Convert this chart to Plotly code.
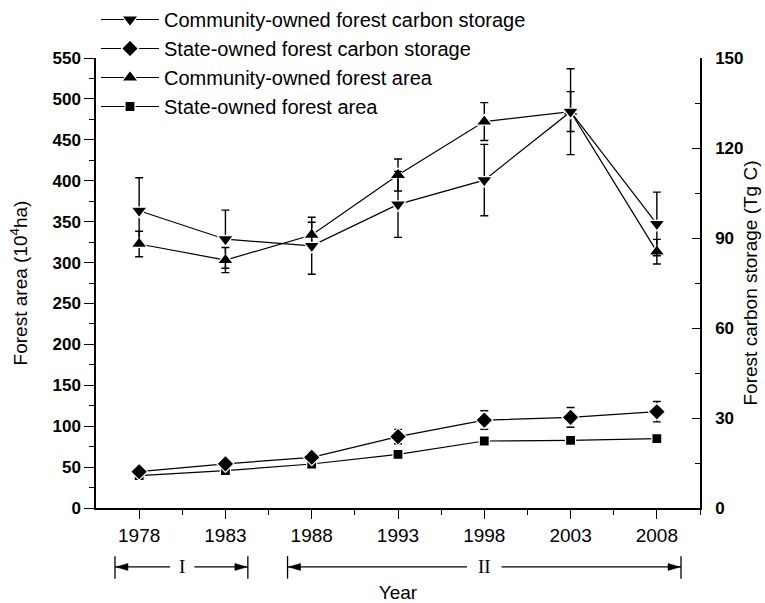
import plotly.graph_objects as go

# Survey years
years = [1978, 1983, 1988, 1993, 1998, 2003, 2008]

# Forest carbon storage (Tg C), right axis
community_carbon = [99.1, 89.6, 87.4, 101.2, 109.3, 132.1, 94.7]
community_carbon_err = [11.0, 9.7, 9.5, 11.0, 11.9, 14.3, 10.6]
state_carbon = [12.1, 14.7, 16.9, 23.8, 29.3, 30.2, 32.1]
state_carbon_err = [1.3, 1.3, 1.6, 2.4, 3.1, 3.3, 3.4]

# Forest area (10^4 ha), left axis
community_area = [322.7, 303.0, 333.7, 407.0, 472.3, 484.5, 313.3]
community_area_err = [15.6, 15.3, 15.5, 19.6, 23.2, 24.4, 15.0]
state_area = [39.5, 45.6, 53.8, 65.6, 81.9, 82.7, 84.7]

# Period brackets below the axis: (label, start, end, label position)
periods = [("I", 1976.6, 1984.3, 1980.5), ("II", 1986.6, 2009.4, 1998.0)]

FONT = "Liberation Sans, Arial, sans-serif"
BLACK = "black"


def series(name, y, err, symbol, size, axis):
    kw = dict(
        x=years, y=y, name=name, mode="lines+markers", yaxis=axis,
        line=dict(color=BLACK, width=1.2),
        marker=dict(symbol=symbol, size=size, color=BLACK,
                    line=dict(color="white", width=1.2)),
    )
    if err is not None:
        kw["error_y"] = dict(type="data", array=err, visible=True,
                             color=BLACK, thickness=1.4, width=4)
    return go.Scatter(**kw)


fig = go.Figure()
fig.add_trace(series("Community-owned forest carbon storage", community_carbon,
                     community_carbon_err, "triangle-down", 14, "y2"))
fig.add_trace(series("State-owned forest carbon storage", state_carbon,
                     state_carbon_err, "diamond", 13, "y2"))
fig.add_trace(series("Community-owned forest area", community_area,
                     community_area_err, "triangle-up", 14, "y"))
fig.add_trace(series("State-owned forest area", state_area,
                     None, "square", 10, "y"))

# Period brackets: end bars, arrow shafts and filled arrowheads
annotations = []
shapes = []
y_arrow = -0.131
line_style = dict(color=BLACK, width=1.3)
for label, x0, x1, xm in periods:
    gap = 0.7 if len(label) == 1 else 1.0
    for xb in (x0, x1):
        shapes.append(dict(type="line", xref="x", yref="paper", x0=xb, x1=xb,
                           y0=-0.107, y1=-0.157, line=line_style))
    shapes.append(dict(type="line", xref="x", yref="paper", x0=x0, x1=xm - gap,
                       y0=y_arrow, y1=y_arrow, line=line_style))
    shapes.append(dict(type="line", xref="x", yref="paper", x0=xm + gap, x1=x1,
                       y0=y_arrow, y1=y_arrow, line=line_style))
    for xb, d in ((x0, 1), (x1, -1)):
        shapes.append(dict(
            type="path", xref="x", yref="paper",
            xsizemode="pixel", ysizemode="pixel", xanchor=xb, yanchor=y_arrow,
            path=f"M {d * 1},0 L {d * 13},3.5 L {d * 13},-3.5 Z",
            fillcolor=BLACK, line=dict(color=BLACK, width=0.5)))
    annotations.append(dict(
        x=xm, y=y_arrow, xref="x", yref="paper", text=label, showarrow=False,
        xanchor="center", yanchor="middle",
        font=dict(family="Liberation Serif, Times New Roman, serif", size=19,
                  color=BLACK)))

fig.update_layout(
    width=765, height=603, autosize=False,
    margin=dict(l=96, r=65, t=58, b=95, autoexpand=False),
    plot_bgcolor="white", paper_bgcolor="white",
    font=dict(family=FONT, color=BLACK),
    showlegend=True,
    legend=dict(x=0.0, y=1.0, xanchor="left", yanchor="top", yref="container",
                bgcolor="rgba(0,0,0,0)", font=dict(family=FONT, size=20),
                itemwidth=58, tracegroupgap=0),
    xaxis=dict(
        range=[1975.5, 2010.5], tickvals=years, ticktext=[str(y) for y in years],
        showline=True, linecolor=BLACK, linewidth=1.5, mirror=False,
        ticks="outside", ticklen=9, tickwidth=1.2, tickcolor=BLACK,
        minor=dict(tickvals=[y + 2.5 for y in years], ticks="outside",
                   ticklen=5, tickwidth=1.2, tickcolor=BLACK),
        showgrid=False, zeroline=False, automargin=False,
        tickfont=dict(family=FONT, size=19),
        title=dict(text="Year", font=dict(family=FONT, size=19), standoff=42),
    ),
    yaxis=dict(
        range=[0, 550], tick0=0, dtick=50,
        showline=True, linecolor=BLACK, linewidth=1.5,
        ticks="outside", ticklen=10, tickwidth=1.2, tickcolor=BLACK,
        minor=dict(dtick=25, ticks="outside", ticklen=5, tickwidth=1.2,
                   tickcolor=BLACK),
        showgrid=False, zeroline=False, automargin=False,
        tickfont=dict(family=FONT, size=17, weight="bold"),
        title=dict(text="Forest area (10<sup>4</sup>ha)",
                   font=dict(family=FONT, size=19), standoff=20),
    ),
    yaxis2=dict(
        range=[0, 150], tick0=0, dtick=30, overlaying="y", side="right",
        showline=True, linecolor=BLACK, linewidth=1.5,
        ticks="inside", ticklen=8, tickwidth=1.2, tickcolor=BLACK,
        minor=dict(dtick=15, ticks="inside", ticklen=5, tickwidth=1.2,
                   tickcolor=BLACK),
        showgrid=False, zeroline=False, automargin=False, ticklabelstandoff=10,
        tickfont=dict(family=FONT, size=17, weight="bold"),
        title=dict(text="Forest carbon storage (Tg C)",
                   font=dict(family=FONT, size=19), standoff=1),
    ),
    annotations=annotations,
    shapes=shapes,
)

fig.write_html("out.html")
